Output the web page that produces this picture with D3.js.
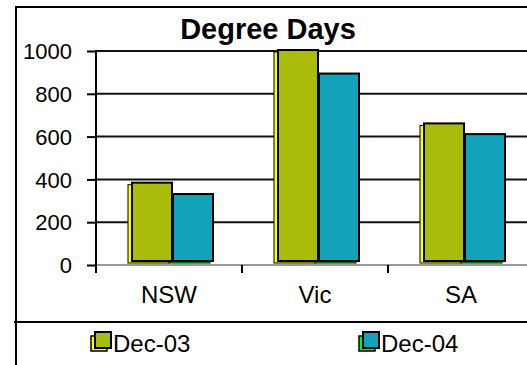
<!DOCTYPE html>
<html>
<head>
<meta charset="utf-8">
<script src="https://cdn.jsdelivr.net/npm/d3@7"></script>
<style>
  html, body { margin: 0; padding: 0; background: #fff; }
  svg { display: block; font-family: "Liberation Sans", Arial, sans-serif; }
</style>
</head>
<body>
<svg id="chart" width="527" height="365"></svg>
<script>
// Heating degree days by state, December 2003 vs December 2004
const categories = ["NSW", "Vic", "SA"];
const seriesNames = ["Dec-03", "Dec-04"];
const dec03 = [380, 1000, 657];
const dec04 = [327, 890, 607];
const yTicks = [0, 200, 400, 600, 800, 1000];

const faceColors = { "Dec-03": "#a9bc0c", "Dec-04": "#12a2ba" };
const edgeColors = { "Dec-03": "#ffff00", "Dec-04": "#00ff00" };

const svg = d3.select("#chart");
const W = 527, H = 365;

const x = d3.scaleBand().domain(categories).range([96, 534]);
const groupW = 82;
const x1 = d3.scaleBand().domain(seriesNames)
  .range([(x.bandwidth() - groupW) / 2, (x.bandwidth() + groupW) / 2]);
const y = d3.scaleLinear().domain([0, 1000]).range([265, 51]);

// outer frame and legend divider
svg.append("line").attr("x1", 16).attr("x2", W).attr("y1", 7).attr("y2", 7)
  .attr("stroke", "#000").attr("stroke-width", 2);
svg.append("line").attr("x1", 16).attr("x2", 16).attr("y1", 6).attr("y2", H)
  .attr("stroke", "#000").attr("stroke-width", 2);
svg.append("line").attr("x1", 14).attr("x2", W).attr("y1", 322).attr("y2", 322)
  .attr("stroke", "#000").attr("stroke-width", 2);

// title
svg.append("text").attr("x", 268).attr("y", 39).attr("text-anchor", "middle")
  .attr("font-size", 29).attr("font-weight", "bold").text("Degree Days");

// horizontal gridlines
svg.append("g").selectAll("line").data(yTicks.filter(d => d > 0)).join("line")
  .attr("x1", 96).attr("x2", W)
  .attr("y1", d => y(d)).attr("y2", d => y(d))
  .attr("stroke", "#111").attr("stroke-width", 2);

// category axis baseline
svg.append("line").attr("x1", 96).attr("x2", W).attr("y1", y(0)).attr("y2", y(0))
  .attr("stroke", "#999").attr("stroke-width", 2);

// value axis
const yAxis = svg.append("g").attr("transform", "translate(96,0)")
  .call(d3.axisLeft(y).tickValues(yTicks).tickSize(9).tickPadding(15).tickFormat(d3.format("d")));
yAxis.select(".domain").remove();
yAxis.selectAll(".tick line").attr("stroke", "#000").attr("stroke-width", 2);
yAxis.selectAll(".tick text").attr("font-size", 22).attr("fill", "#000")
  .attr("font-family", "Liberation Sans, Arial, sans-serif").attr("dy", "0.35em");
svg.append("line").attr("x1", 96).attr("x2", 96).attr("y1", y(1000) - 1).attr("y2", 273)
  .attr("stroke", "#000").attr("stroke-width", 2);

// category separators below the axis
svg.append("g").selectAll("line").data(categories.slice(1)).join("line")
  .attr("x1", d => x(d)).attr("x2", d => x(d))
  .attr("y1", y(0)).attr("y2", 273)
  .attr("stroke", "#000").attr("stroke-width", 2);

// category labels
const xAxis = svg.append("g").attr("transform", `translate(0,${y(0)})`)
  .call(d3.axisBottom(x).tickSize(0).tickPadding(21));
xAxis.select(".domain").remove();
xAxis.selectAll(".tick text").attr("font-size", 24).attr("fill", "#000")
  .attr("font-family", "Liberation Sans, Arial, sans-serif").attr("dy", "0.71em");

// bar data
const rows = [];
categories.forEach((c, i) => {
  rows.push({ cat: c, series: "Dec-03", value: dec03[i] });
  rows.push({ cat: c, series: "Dec-04", value: dec04[i] });
});

// back (offset) faces first, then the front faces
const dx = 4, dy = 2;
svg.append("g").selectAll("rect").data(rows).join("rect")
  .attr("x", d => x(d.cat) + x1(d.series))
  .attr("y", d => y(d.value) + 1)
  .attr("width", x1.bandwidth())
  .attr("height", d => y(0) - 2 - (y(d.value) + 1))
  .attr("fill", d => edgeColors[d.series])
  .attr("stroke", "#000").attr("stroke-width", 1);

svg.append("g").selectAll("rect").data(rows).join("rect")
  .attr("x", d => x(d.cat) + x1(d.series) + dx)
  .attr("y", d => y(d.value) + 1 - dy)
  .attr("width", x1.bandwidth() - 1)
  .attr("height", d => y(0) - 2 - (y(d.value) + 1))
  .attr("fill", d => faceColors[d.series])
  .attr("stroke", "#000").attr("stroke-width", 2);

// legend
const legendX = [95, 363];
const lg = svg.append("g").selectAll("g").data(seriesNames).join("g")
  .attr("transform", (d, i) => `translate(${legendX[i]},332)`);
lg.append("rect").attr("x", -4).attr("y", 4).attr("width", 16).attr("height", 15)
  .attr("fill", d => edgeColors[d]).attr("stroke", "#000").attr("stroke-width", 1.5);
lg.append("rect").attr("x", 0).attr("y", 0).attr("width", 16).attr("height", 16)
  .attr("fill", d => faceColors[d]).attr("stroke", "#000").attr("stroke-width", 2);
lg.append("text").attr("x", 18).attr("y", 20).attr("font-size", 24).text(d => d);
</script>
</body>
</html>
